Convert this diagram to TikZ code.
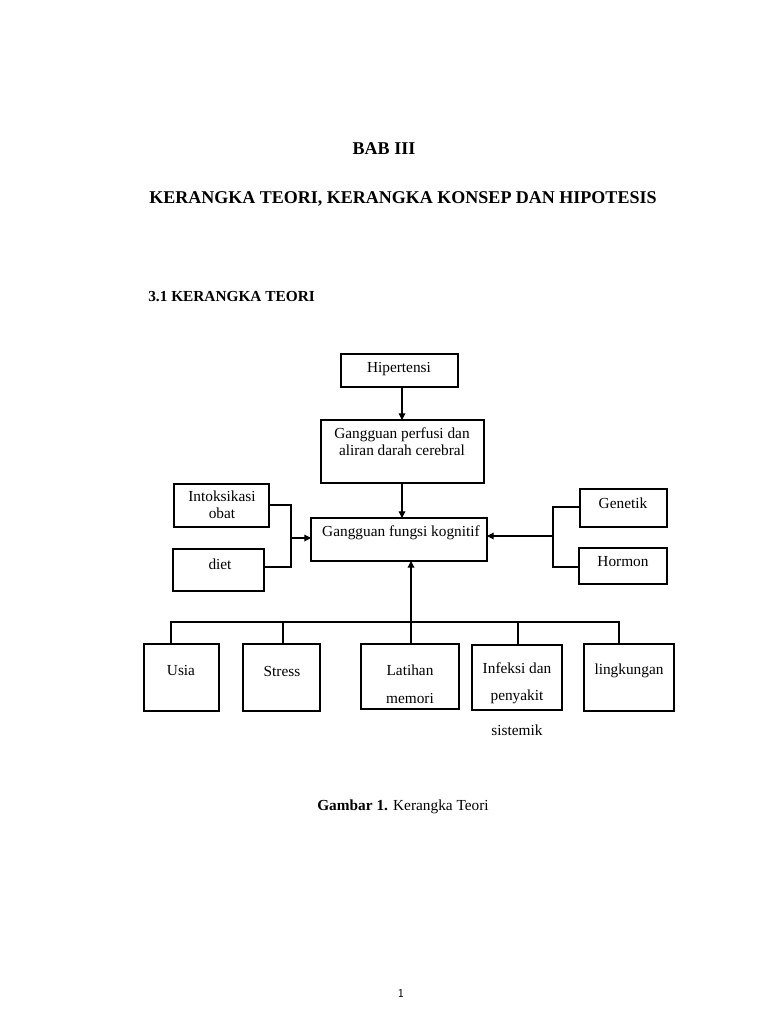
\documentclass[tikz,border=0pt]{standalone}
\usepackage{fontspec}
\setmainfont{Liberation Serif}
\usetikzlibrary{arrows.meta}
\begin{document}
\begin{tikzpicture}[x=0.75pt,y=-0.75pt,
  bx/.style={draw,line width=0.9pt},
  tx/.style={font=\fontsize{11.5}{13}\selectfont,inner sep=0pt,align=center},
  ln/.style={line width=0.9pt},
  ar/.style={line width=0.9pt,-{Triangle[length=5pt,width=5pt]}}]
\useasboundingbox (0,0) rectangle (768,1024);
\node[font=\bfseries\fontsize{13.5}{16}\selectfont] (t1) at (384,149) {BAB III};
\node[font=\bfseries\fontsize{13.5}{16}\selectfont] (t2) at (403,199) {KERANGKA TEORI, KERANGKA KONSEP DAN HIPOTESIS};
\node[font=\bfseries\fontsize{11.5}{13}\selectfont,anchor=west,inner sep=0pt] (t3) at (148,297) {3.1 KERANGKA TEORI};
% boxes
\draw[bx] (341,354) rectangle (458,387);
\node[tx] (hip) at (399,369) {Hipertensi};
\draw[bx] (321,420) rectangle (484,483);
\node[tx] (perf) at (402,442) {Gangguan perfusi dan\\aliran darah cerebral};
\draw[bx] (311,518) rectangle (487,561);
\node[tx] (kog) at (401,533) {Gangguan fungsi kognitif};
\draw[bx] (174,484) rectangle (269,527);
\node[tx] (int) at (222,505) {Intoksikasi\\obat};
\draw[bx] (173,549) rectangle (264,591);
\node[tx] (diet) at (220,564) {diet};
\draw[bx] (580,489) rectangle (667,527);
\node[tx] (gen) at (623,503) {Genetik};
\draw[bx] (579,548) rectangle (667,584);
\node[tx] (hor) at (623,562) {Hormon};
\draw[bx] (144,644) rectangle (219,711); \node[tx] (usia) at (181,670) {Usia};
\draw[bx] (243,644) rectangle (320,711); \node[tx] (str) at (282,671) {Stress};
\draw[bx] (361,644) rectangle (459,709); \node[tx] (lat) at (410,670) {Latihan};
\node[tx] (mem) at (410,698) {memori};
\draw[bx] (472,645) rectangle (562,710); \node[tx] (inf) at (517,668) {Infeksi dan};
\node[tx] (pen) at (517,697) {penyakit};
\node[tx] (sis) at (517,730) {sistemik};
\draw[bx] (584,644) rectangle (674,711); \node[tx] (ling) at (629,671) {lingkungan};
% connectors
\coordinate (a1) at (402,387); \coordinate (a2) at (402,420);
\draw[ar] (a1) -- (a2);
\coordinate (b1) at (402,483); \coordinate (b2) at (402,518);
\draw[ar] (b1) -- (b2);
\coordinate (l1) at (269,505); \coordinate (l2) at (264,567); \coordinate (lm) at (291,538); \coordinate (lk) at (311,538);
\draw[ln] (l1) -| (291,567) -- (l2);
\draw[ar] (lm) -- (lk);
\coordinate (r1) at (580,507); \coordinate (r2) at (579,567); \coordinate (rm) at (553,536); \coordinate (rk) at (487,536);
\draw[ln] (r1) -| (553,567) -- (r2);
\draw[ar] (rm) -- (rk);
\coordinate (v1) at (411,644); \coordinate (v2) at (411,561);
\draw[ar] (v1) -- (v2);
\draw[ln] (171,644) |- (619,622) -- (619,644);
\draw[ln] (283,622) -- (283,644);
\draw[ln] (518,622) -- (518,645);
\node[tx] (cap) at (403,807) {\textbf{Gambar 1.} Kerangka Teori};
\node[font=\sffamily\fontsize{9}{10}\selectfont] (pg) at (401,993) {1};
\end{tikzpicture}
\end{document}
